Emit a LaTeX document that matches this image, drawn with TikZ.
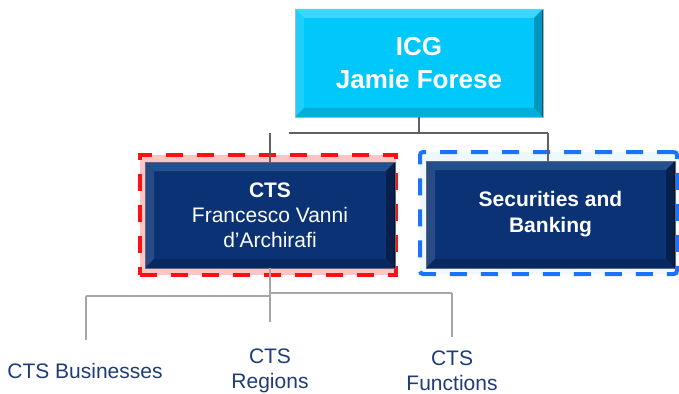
\documentclass[tikz,border=0pt]{standalone}
\usepackage{fontspec}
\setmainfont{Liberation Sans}
\definecolor{icgcyan}{HTML}{00C8FA}
\definecolor{icgtop}{HTML}{3AD6FF}
\definecolor{icgbot}{HTML}{00AEDA}
\definecolor{icgside}{HTML}{0096C0}
\definecolor{ctsnavy}{HTML}{0A3275}
\definecolor{ctstop}{HTML}{23508F}
\definecolor{ctsbot}{HTML}{072860}
\definecolor{ctsside}{HTML}{061F4C}
\definecolor{labelnavy}{HTML}{1F3C78}
\definecolor{framered}{HTML}{FF1010}
\definecolor{framepink}{HTML}{FFC4C4}
\definecolor{frameblue}{HTML}{1A73FF}
\definecolor{frameice}{HTML}{F0F8FF}
\tikzset{
  bevel/.style n args={4}{path picture={
    \fill[#1] (path picture bounding box.north west) -- (path picture bounding box.north east)
      -- ([shift={(-9pt,-9pt)}]path picture bounding box.north east) -- ([shift={(9pt,-9pt)}]path picture bounding box.north west) -- cycle;
    \fill[#2] (path picture bounding box.north west) -- (path picture bounding box.south west)
      -- ([shift={(9pt,9pt)}]path picture bounding box.south west) -- ([shift={(9pt,-9pt)}]path picture bounding box.north west) -- cycle;
    \fill[#3] (path picture bounding box.south west) -- (path picture bounding box.south east)
      -- ([shift={(-9pt,9pt)}]path picture bounding box.south east) -- ([shift={(9pt,9pt)}]path picture bounding box.south west) -- cycle;
    \fill[#4] (path picture bounding box.north east) -- (path picture bounding box.south east)
      -- ([shift={(-9pt,9pt)}]path picture bounding box.south east) -- ([shift={(-9pt,-9pt)}]path picture bounding box.north east) -- cycle;
    \draw[#4!60!black, line width=2.5pt] (path picture bounding box.north east) -- (path picture bounding box.south east);
  }},
  icgbox/.style={rectangle, fill=icgcyan, draw=gray!60, line width=0.6pt, text=white, font=\bfseries\fontsize{26}{33}\selectfont, align=center,
    minimum width=248pt, minimum height=108pt, bevel={icgtop}{icgcyan!88!white}{icgbot}{icgside}},
  navybox/.style={rectangle, fill=ctsnavy, draw=gray!70!ctsnavy, line width=0.6pt, text=white, align=center,
    minimum width=250pt, minimum height=106pt, bevel={ctstop}{ctsnavy!88!white}{ctsbot}{ctsside}},
  redframe/.style={rectangle, draw=framered, fill=framepink, line width=4pt, dash pattern=on 17pt off 14pt},
  blueframe/.style={rectangle, draw=frameblue, fill=frameice, line width=4pt, dash pattern=on 17pt off 14pt, rounded corners=3pt},
  unit/.style={text=labelnavy, font=\fontsize{21}{25}\selectfont, align=center},
  topline/.style={draw=black!62, line width=1.2pt},
  subline/.style={draw=black!35, line width=1.5pt},
}
\begin{document}
\begin{tikzpicture}[x=1pt, y=-1pt]
\useasboundingbox (0,0) rectangle (679,393);
% ICG
\node[icgbox] (icg) at (419,63) {ICG\\Jamie Forese};
% highlight frames
\node[redframe, minimum width=256pt, minimum height=120pt] (ctsframe) at (268,215) {};
\node[blueframe, minimum width=257pt, minimum height=122pt] (sbframe) at (548.5,213) {};
% CTS
\node[navybox, font=\fontsize{21}{25}\selectfont] (cts) at (270,215) {\textbf{CTS}\\Francesco Vanni\\d’Archirafi};
% Securities and Banking
\node[navybox, font=\bfseries\fontsize{21}{26}\selectfont, minimum width=249pt, minimum height=107pt] (sb) at (550.5,214.5) {Securities and\\Banking};

% Connections
\coordinate (barL) at (289,133);
\coordinate (barR) at (548,133);
\draw[topline] (icg.south) -- (icg.south |- barL);
\draw[topline] (barL) -- (barR);
\draw[topline] (barR) -- (barR |- sb.north);
\draw[topline] (cts.north |- barL) -- (cts.north);

% CTS units
\node[unit] (businesses) at (85,371) {CTS Businesses};
\node[unit] (regions) at (270,371) {CTS\\Regions};
\node[unit] (functions) at (452,371) {CTS\\Functions};

\coordinate (subL) at (86,296);
\coordinate (subR) at (452,293);
\draw[subline] (cts.south) -- (270,322);
\draw[subline] (subL) -- (270,296);
\draw[subline] (270,293) -- (subR);
\draw[subline] (subL) -- (86,340);
\draw[subline] (subR) -- (452,337);
\end{tikzpicture}
\end{document}
